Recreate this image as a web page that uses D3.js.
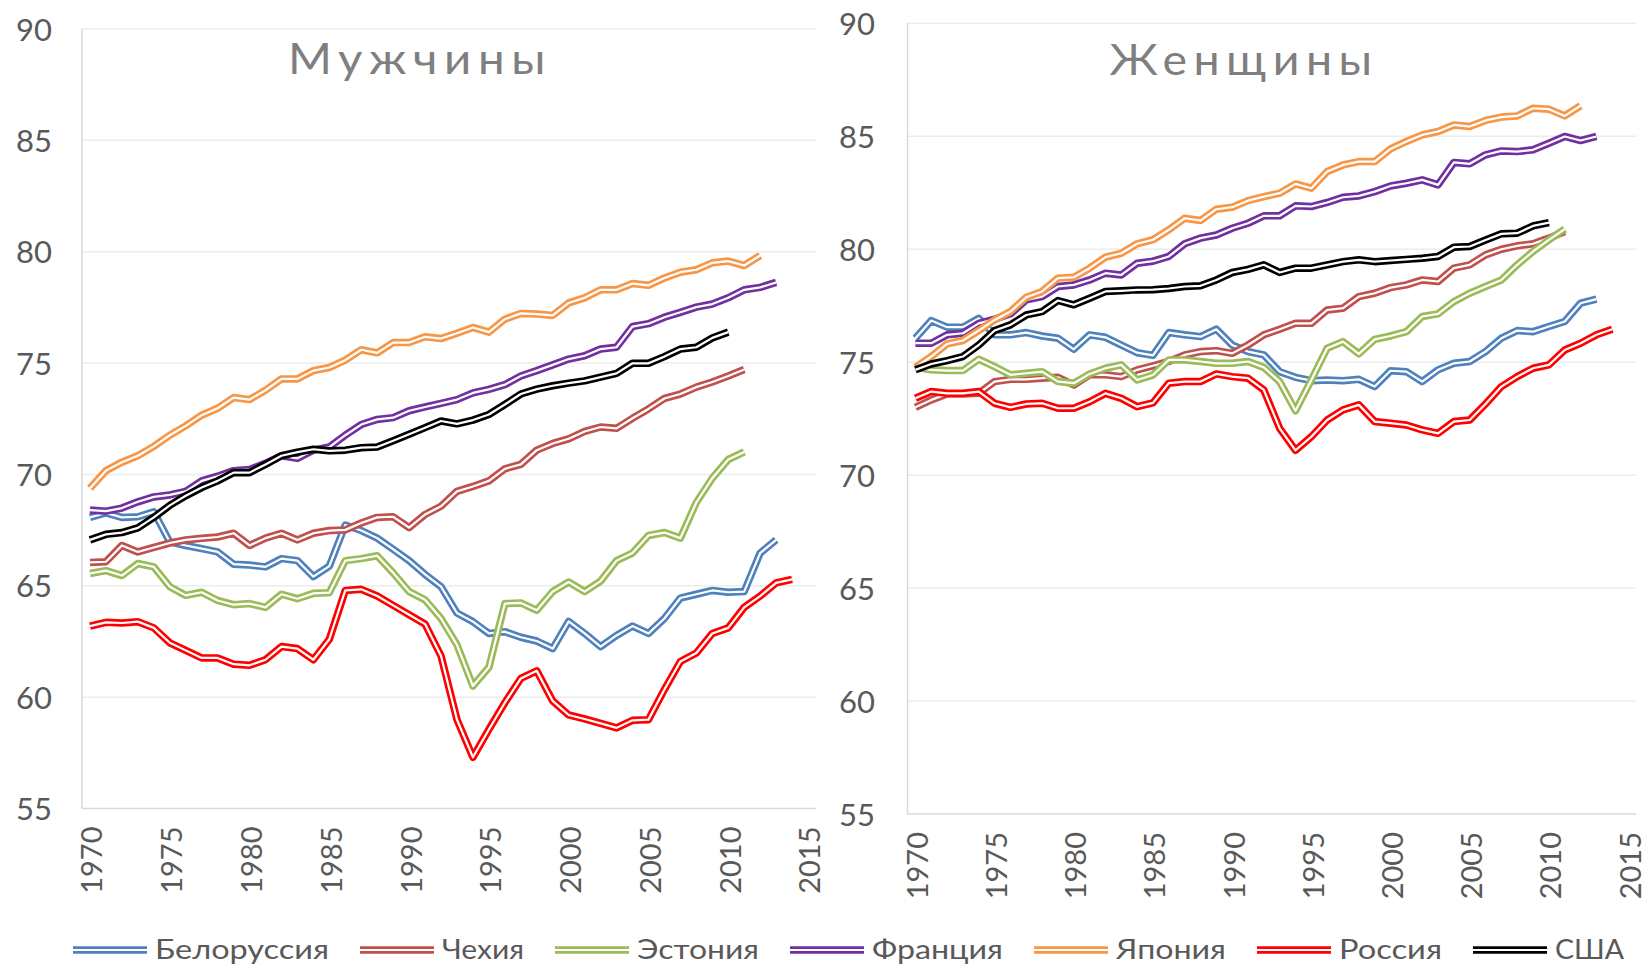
<!DOCTYPE html>
<html><head><meta charset="utf-8">
<script src="https://cdn.jsdelivr.net/npm/d3@7"></script>
<style>html,body{margin:0;padding:0;background:#fff;overflow:hidden}</style>
</head><body><svg id="chart" width="1647" height="964"></svg>
<script>
const years = [1970,1971,1972,1973,1974,1975,1976,1977,1978,1979,1980,1981,1982,1983,1984,1985,1986,1987,1988,1989,1990,1991,1992,1993,1994,1995,1996,1997,1998,1999,2000,2001,2002,2003,2004,2005,2006,2007,2008,2009,2010,2011,2012,2013,2014,2015];
const tickYears = [1970,1975,1980,1985,1990,1995,2000,2005,2010,2015];
const yTicks = [55,60,65,70,75,80,85,90];
const seriesNames = ["Белоруссия","Чехия","Эстония","Франция","Япония","Россия","США"];
const seriesColors = ["#4f81bd","#c0504d","#9bbb59","#7030a0","#f79646","#ff0000","#000000"];
const panelTitles = ["Мужчины","Женщины"];

// Male life expectancy, from 1970
const maleBelarus = [68.07,68.27,68.07,68.1,68.32,66.97,66.81,66.67,66.52,65.97, 65.93,65.85,66.22,66.13,65.41,65.88,67.73,67.48,67.14,66.64, 66.13,65.51,64.96,63.78,63.39,62.86,62.94,62.69,62.52,62.18, 63.4,62.86,62.27,62.77,63.19,62.86,63.53,64.45,64.62,64.79, 64.71,64.74,66.47,67.06];
const maleCzech = [66.05,66.08,66.81,66.52,66.72,66.92,67.06,67.13,67.19,67.36, 66.81,67.14,67.36,67.06,67.36,67.48,67.51,67.82,68.07,68.1, 67.61,68.2,68.57,69.24,69.46,69.71,70.25,70.45,71.09,71.39, 71.6,71.93,72.13,72.07,72.52,72.94,73.41,73.61,73.92,74.15, 74.42,74.71];
const maleEstonia = [65.55,65.68,65.46,66.0,65.85,64.96,64.57,64.71,64.34,64.15, 64.2,64.03,64.62,64.42,64.66,64.69,66.13,66.22,66.35,65.58, 64.74,64.37,63.53,62.35,60.5,61.34,64.2,64.23,63.9,64.74, 65.17,64.74,65.21,66.13,66.47,67.26,67.39,67.14,68.74,69.83, 70.67,71.01];
const maleFrance = [68.4,68.35,68.49,68.77,68.99,69.08,69.24,69.71,69.92,70.17, 70.22,70.5,70.84,70.72,71.09,71.23,71.76,72.24,72.47,72.55, 72.86,73.03,73.19,73.36,73.66,73.82,74.03,74.42,74.66,74.92, 75.18,75.33,75.63,75.71,76.64,76.77,77.06,77.28,77.51,77.65, 77.93,78.29,78.4,78.62];
const maleJapan = [69.38,70.17,70.55,70.84,71.26,71.76,72.18,72.66,72.97,73.45, 73.36,73.78,74.29,74.29,74.66,74.8,75.13,75.6,75.46,75.92, 75.92,76.18,76.1,76.34,76.6,76.39,76.97,77.23,77.2,77.14, 77.7,77.93,78.29,78.29,78.57,78.49,78.82,79.08,79.19,79.5, 79.58,79.38,79.83];
const maleRussia = [63.19,63.36,63.33,63.39,63.11,62.44,62.1,61.76,61.76,61.48, 61.43,61.68,62.27,62.18,61.68,62.6,64.79,64.84,64.54,64.12, 63.7,63.28,61.85,58.99,57.3,58.55,59.75,60.84,61.18,59.83, 59.2,59.02,58.82,58.62,58.96,58.99,60.34,61.6,61.98,62.86, 63.11,64.03,64.54,65.13,65.29];
const maleUSA = [67.06,67.31,67.39,67.6,68.07,68.61,69.04,69.41,69.71,70.08, 70.08,70.45,70.84,71.0,71.13,71.06,71.09,71.2,71.23,71.51, 71.8,72.1,72.4,72.27,72.44,72.69,73.14,73.61,73.83,73.98, 74.1,74.2,74.37,74.54,74.99,74.99,75.29,75.63,75.71,76.13, 76.39];

// Female life expectancy, from 1970
const femBelarus = [76.06,76.84,76.55,76.55,76.94,76.21,76.21,76.31,76.16,76.06, 75.57,76.21,76.1,75.76,75.42,75.3,76.31,76.21,76.13,76.46, 75.76,75.47,75.32,74.58,74.33,74.18,74.21,74.18,74.24,73.92, 74.62,74.58,74.14,74.66,74.95,75.03,75.47,76.06,76.4,76.35, 76.58,76.8,77.61,77.79];
const femCzech = [73.0,73.33,73.59,73.59,73.62,74.14,74.24,74.24,74.29,74.33, 73.99,74.44,74.44,74.36,74.66,74.84,75.03,75.32,75.47,75.51, 75.39,75.76,76.21,76.46,76.72,76.72,77.31,77.39,77.9,78.05, 78.3,78.42,78.64,78.57,79.16,79.31,79.75,80.0,80.15,80.24, 80.49,80.78];
const femEstonia = [74.77,74.66,74.63,74.63,75.13,74.8,74.44,74.51,74.58,74.14, 74.07,74.48,74.73,74.88,74.21,74.43,75.1,75.1,75.03,74.95, 74.95,75.03,74.77,74.14,72.85,74.21,75.62,75.91,75.37,76.01, 76.16,76.35,77.02,77.14,77.68,78.05,78.35,78.64,79.31,79.9, 80.41,80.89];
const femFrance = [75.84,75.84,76.21,76.28,76.72,76.9,77.14,77.76,77.9,78.35, 78.42,78.64,78.94,78.86,79.38,79.47,79.68,80.24,80.49,80.63, 80.93,81.15,81.48,81.48,81.92,81.89,82.07,82.3,82.36,82.55, 82.8,82.92,83.07,82.85,83.84,83.78,84.18,84.35,84.32,84.4, 84.69,84.99,84.81,84.99];
const femJapan = [74.77,75.25,75.81,75.96,76.4,76.87,77.24,77.87,78.13,78.72, 78.76,79.16,79.65,79.82,80.24,80.42,80.86,81.37,81.27,81.77, 81.86,82.15,82.33,82.48,82.89,82.7,83.44,83.73,83.88,83.88, 84.44,84.77,85.06,85.21,85.5,85.43,85.7,85.85,85.9,86.24, 86.2,85.9,86.35];
const femRussia = [73.4,73.7,73.62,73.62,73.7,73.18,73.0,73.15,73.18,72.96, 72.96,73.25,73.62,73.4,73.03,73.2,74.07,74.14,74.14,74.48, 74.36,74.29,73.77,72.07,71.1,71.7,72.44,72.89,73.11,72.37, 72.3,72.22,72.0,71.85,72.37,72.44,73.15,73.92,74.36,74.73, 74.88,75.54,75.84,76.21,76.46];
const femUSA = [74.66,74.92,75.07,75.25,75.76,76.4,76.65,77.09,77.24,77.73, 77.54,77.83,78.13,78.16,78.2,78.21,78.26,78.35,78.38,78.64, 78.97,79.11,79.31,78.97,79.16,79.16,79.31,79.45,79.53,79.45, 79.5,79.55,79.6,79.68,80.09,80.12,80.41,80.68,80.71,81.03, 81.18];

const maleSeries = [maleBelarus, maleCzech, maleEstonia, maleFrance, maleJapan, maleRussia, maleUSA];
const femSeries = [femBelarus, femCzech, femEstonia, femFrance, femJapan, femRussia, femUSA];

const svg = d3.select("#chart");
svg.append("rect").attr("width",1647).attr("height",964).attr("fill","#fff");

const FONT = "Lato, 'Noto Sans', 'Open Sans', sans-serif";
const LINE_W = 7.5, GAP_W = 2.2;

const panels = [
  {title: panelTitles[0], data: maleSeries, x0: 82, x1: 816, yTop: 29, yBot: 808.5, titleX: 420, titleY: 74, titleW: 264, labelX: 52},
  {title: panelTitles[1], data: femSeries, x0: 907.5, x1: 1636, yTop: 23.3, yBot: 814, titleX: 1244, titleY: 75, titleW: 269, labelX: 875}
];

panels.forEach(p => {
  const g = svg.append("g");
  const x = d3.scalePoint().domain(years).range([p.x0, p.x1]).padding(0.5);
  const y = d3.scaleLinear().domain([55, 90]).range([p.yBot, p.yTop]);

  // gridlines
  g.append("g").selectAll("line").data(yTicks.filter(v => v !== 55)).join("line")
    .attr("x1", p.x0).attr("x2", p.x1)
    .attr("y1", d => y(d)).attr("y2", d => y(d))
    .attr("stroke", "#ececec").attr("stroke-width", 1.5);

  // y axis labels
  const ya = g.append("g").attr("transform", `translate(${p.labelX},0)`)
    .call(d3.axisLeft(y).tickValues(yTicks).tickSize(0).tickPadding(0));
  ya.select(".domain").remove();
  ya.selectAll("text").attr("font-family", FONT).attr("font-size", 31).attr("fill", "#595959")
    .attr("x", 0).attr("dy", "0.36em");

  // axis lines
  g.append("line").attr("x1", p.x0).attr("x2", p.x0).attr("y1", p.yTop).attr("y2", p.yBot)
    .attr("stroke", "#d9d9d9").attr("stroke-width", 1.5);
  g.append("line").attr("x1", p.x0).attr("x2", p.x1).attr("y1", p.yBot).attr("y2", p.yBot)
    .attr("stroke", "#d9d9d9").attr("stroke-width", 1.5);

  // x axis labels
  const xa = g.append("g").attr("transform", `translate(0,${p.yBot})`)
    .call(d3.axisBottom(x).tickValues(tickYears).tickSize(0));
  xa.select(".domain").remove();
  xa.selectAll("text").attr("font-family", FONT).attr("font-size", 29).attr("fill", "#595959")
    .attr("transform", "rotate(-90)").attr("x", -18).attr("y", 1.5).attr("dy", "0.36em")
    .style("text-anchor", "end");

  // title
  g.append("text").attr("x", p.titleX).attr("y", p.titleY).attr("text-anchor", "middle")
    .attr("font-family", FONT).attr("font-size", 43).attr("fill", "#7f7f7f")
    .attr("letter-spacing", 6)
    .attr("textLength", p.titleW).attr("lengthAdjust", "spacingAndGlyphs")
    .text(p.title);

  // series (double lines)
  const line = d3.line().x((d, i) => x(years[i])).y(d => y(d));
  p.data.forEach((vals, si) => {
    const sg = g.append("g");
    sg.append("path").attr("d", line(vals)).attr("fill", "none")
      .attr("stroke", seriesColors[si]).attr("stroke-width", LINE_W)
      .attr("stroke-linejoin", "round");
    sg.append("path").attr("d", line(vals)).attr("fill", "none")
      .attr("stroke", "#fff").attr("stroke-width", GAP_W)
      .attr("stroke-linejoin", "round");
  });
});

// legend
const legendWidths = [174, 82, 122, 131, 110, 103, 69];
const lg = svg.append("g");
let cx = 73;
const legY = 950;
seriesNames.forEach((name, i) => {
  lg.append("line").attr("x1", cx).attr("x2", cx + 74).attr("y1", legY).attr("y2", legY)
    .attr("stroke", seriesColors[i]).attr("stroke-width", LINE_W);
  lg.append("line").attr("x1", cx).attr("x2", cx + 74).attr("y1", legY).attr("y2", legY)
    .attr("stroke", "#fff").attr("stroke-width", GAP_W);
  lg.append("text").attr("x", cx + 82).attr("y", legY + 9)
    .attr("font-family", FONT).attr("font-size", 27).attr("fill", "#595959")
    .attr("textLength", legendWidths[i]).attr("lengthAdjust", "spacingAndGlyphs")
    .text(name);
  cx += 82 + legendWidths[i] + 31;
});
</script></body></html>
